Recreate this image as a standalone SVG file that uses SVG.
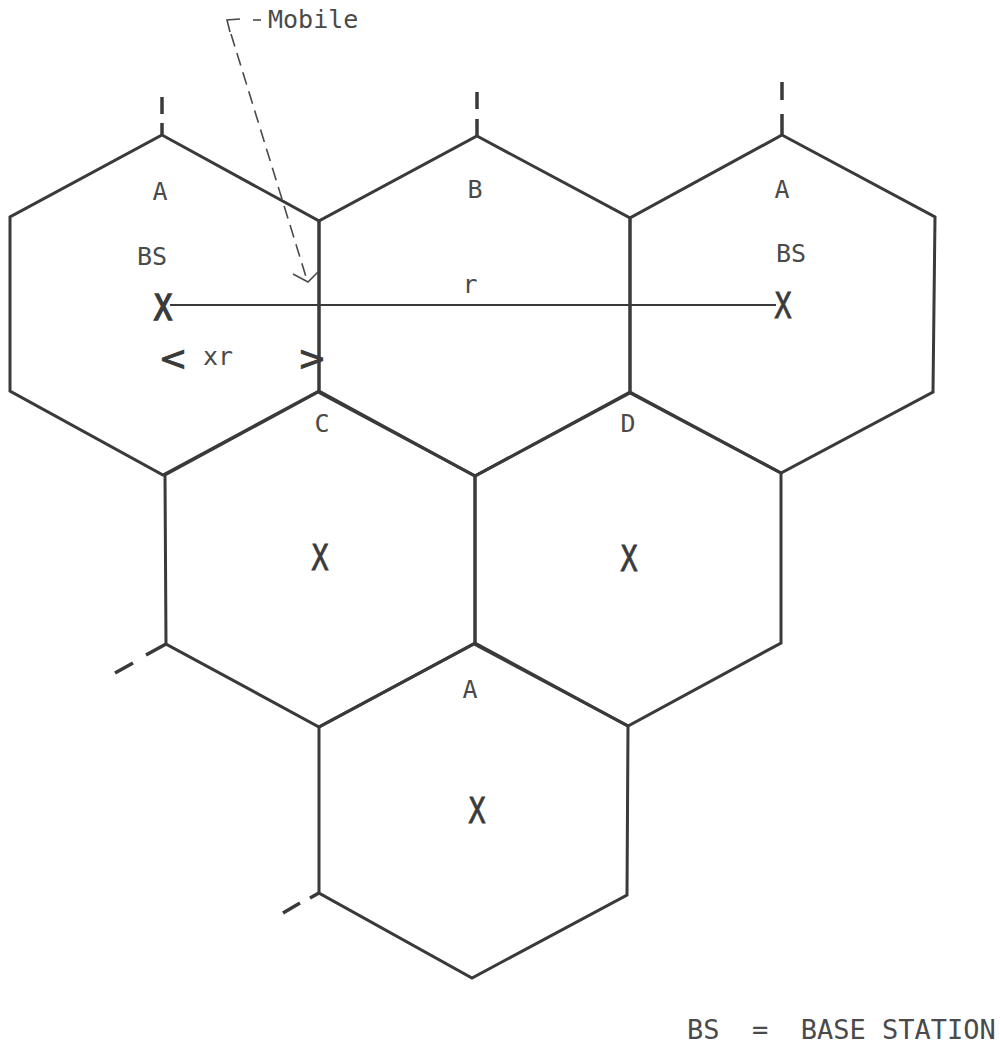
<svg xmlns="http://www.w3.org/2000/svg" width="1000" height="1047" viewBox="0 0 1000 1047">
<style>
  .hex { fill: none; stroke: #3a3a3a; stroke-width: 3; stroke-linejoin: miter; }
  .tick { fill: none; stroke: #3a3a3a; stroke-width: 3.5; }
  .lbl { font-family: "DejaVu Sans Mono", "Liberation Mono", monospace; font-size: 25px; fill: #4a4a4a; text-anchor: middle; }
  .mark { font-family: "DejaVu Sans Mono", "Liberation Mono", monospace; font-size: 36px; fill: #3a3a3a; stroke: #3a3a3a; stroke-width: 0.8; text-anchor: middle; }
  .chev { font-family: "DejaVu Sans", "Liberation Sans", sans-serif; font-size: 34px; fill: #3a3a3a; stroke: #3a3a3a; stroke-width: 1; text-anchor: middle; }
  .legend { font-family: "DejaVu Sans Mono", "Liberation Mono", monospace; font-size: 27px; fill: #4a4a4a; white-space: pre; }
  .dim { fill: none; stroke: #3a3a3a; stroke-width: 2.2; }
  .mob { fill: none; stroke: #4a4a4a; stroke-width: 1.6; }
</style>
<rect width="1000" height="1047" fill="#ffffff"/>

<g id="cell-A-top-left">
  <polygon class="hex" points="162,135 319,221 319,391 163,475 10,391 10,217"/>
  <text class="lbl" x="160" y="200">A</text>
  <text class="lbl" x="152" y="265">BS</text>
  <text class="mark" x="163" y="320" textLength="18" lengthAdjust="spacingAndGlyphs" style="stroke-width:1.6">X</text>
</g>
<g id="cell-B">
  <polygon class="hex" points="477,136 630,218 630,392 475,476 319,391 319,221"/>
  <text class="lbl" x="475" y="198">B</text>
</g>
<g id="cell-A-top-right">
  <polygon class="hex" points="782,135 935,217 933,392 781,473 630,392 630,218"/>
  <text class="lbl" x="782" y="198">A</text>
  <text class="lbl" x="791" y="262">BS</text>
  <text class="mark" x="783" y="318" textLength="17" lengthAdjust="spacingAndGlyphs">X</text>
</g>
<g id="cell-C">
  <polygon class="hex" points="318,392 475,476 475,643 319,727 166,644 165,475"/>
  <text class="lbl" x="322" y="432">C</text>
  <text class="mark" x="320" y="570" textLength="17" lengthAdjust="spacingAndGlyphs">X</text>
</g>
<g id="cell-D">
  <polygon class="hex" points="630,393 781,473 781,643 628,726 475,643 475,476"/>
  <text class="lbl" x="628" y="432">D</text>
  <text class="mark" x="629" y="571" textLength="17" lengthAdjust="spacingAndGlyphs">X</text>
</g>
<g id="cell-A-bottom">
  <polygon class="hex" points="474,644 628,726 627,895 472,978 319,893 319,727"/>
  <text class="lbl" x="470" y="698">A</text>
  <text class="mark" x="477" y="823" textLength="17" lengthAdjust="spacingAndGlyphs">X</text>
</g>

<g id="connectors">
  <line class="tick" x1="162" y1="97" x2="162" y2="114"/>
  <line class="tick" x1="162" y1="123" x2="162" y2="135"/>
  <line class="tick" x1="477" y1="92" x2="477" y2="109"/>
  <line class="tick" x1="477" y1="119" x2="477" y2="136"/>
  <line class="tick" x1="782" y1="82" x2="782" y2="100"/>
  <line class="tick" x1="782" y1="114" x2="782" y2="135"/>
  <line class="tick" x1="115" y1="673" x2="133" y2="663"/>
  <line class="tick" x1="146" y1="655" x2="166" y2="644"/>
  <line class="tick" x1="283" y1="913" x2="300" y2="903"/>
  <line class="tick" x1="310" y1="898" x2="319" y2="893"/>
  <line class="dim" x1="170" y1="305" x2="776" y2="305"/>
  <polyline class="mob" points="240,19 227,20 230,32"/>
  <line class="mob" x1="253" y1="20" x2="261" y2="20"/>
  <line class="mob" x1="231" y1="34" x2="307" y2="280" stroke-dasharray="13,7"/>
  <polyline class="mob" points="293,274 308,282 319,271"/>
</g>

<g id="labels">
  <text class="lbl" x="268" y="28" style="text-anchor:start">Mobile</text>
  <text class="lbl" x="470" y="293">r</text>
  <text class="chev" x="173" y="370">&lt;</text>
  <text class="lbl" x="218" y="365">xr</text>
  <text class="chev" x="312" y="370">&gt;</text>
  <text class="legend" x="687" y="1039">BS  =  BASE STATION</text>
</g>
</svg>
